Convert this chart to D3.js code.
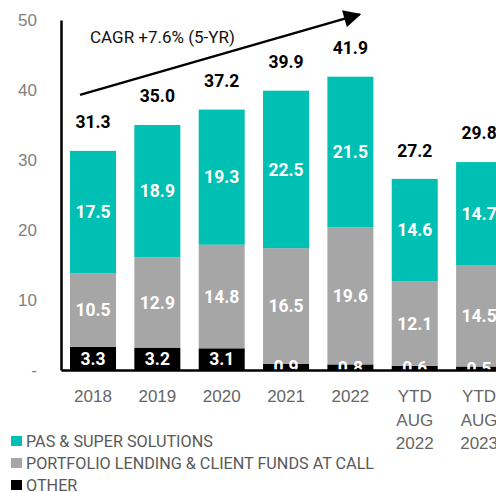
<!DOCTYPE html>
<html>
<head>
<meta charset="utf-8">
<script src="https://cdn.jsdelivr.net/npm/d3@7"></script>
<style>
  body { margin: 0; background: #fff; }
  svg { display: block; font-family: Roboto, "DejaVu Sans", sans-serif; }
</style>
</head>
<body>
<div id="chart"></div>
<script>
// data
const categories = ["2018", "2019", "2020", "2021", "2022", "YTD AUG 2022", "YTD AUG 2023"];
const other = [3.3, 3.2, 3.1, 0.9, 0.8, 0.6, 0.5];
const lending = [10.5, 12.9, 14.8, 16.5, 19.6, 12.1, 14.5];
const pas = [17.5, 18.9, 19.3, 22.5, 21.5, 14.6, 14.7];
const totals = [31.3, 35.0, 37.2, 39.9, 41.9, 27.2, 29.8];
const yTicks = [0, 10, 20, 30, 40, 50];
const seriesNames = ["PAS & SUPER SOLUTIONS", "PORTFOLIO LENDING & CLIENT FUNDS AT CALL", "OTHER"];
const cagrLabel = "CAGR +7.6% (5-YR)";

const colors = { pas: "#00BFB3", lending: "#A6A6A6", other: "#000000" };

const width = 496;
const height = 492;
const marginLeft = 61;
const marginTop = 20;
const PLOT_AREA_HEIGHT = 350;
const STEP = 64.3;

const svg = d3.select("#chart").append("svg")
  .attr("width", width)
  .attr("height", height);

// scales
const $xScale = d3.scaleBand()
  .domain(categories)
  .range([marginLeft, marginLeft + STEP * categories.length])
  .paddingInner(0.285)
  .paddingOuter(0.14);

const $yScale = d3.scaleLinear()
  .domain([0, 50])
  .range([marginTop + PLOT_AREA_HEIGHT, marginTop]);

// stacked rows
const rows = categories.map((c, i) => ({ cat: c, other: other[i], lending: lending[i], pas: pas[i] }));
const stack = d3.stack().keys(["other", "lending", "pas"])(rows);

const g = svg.append("g");

// bars
g.selectAll("g.layer")
  .data(stack)
  .join("g")
  .attr("class", "layer")
  .attr("fill", (d) => colors[d.key])
  .selectAll("rect")
  .data((d) => d)
  .join("rect")
  .attr("x", (d) => $xScale(d.data.cat))
  .attr("y", (d) => $yScale(d[1]))
  .attr("width", $xScale.bandwidth())
  .attr("height", (d) => $yScale(d[0]) - $yScale(d[1]));

// segment labels
stack.forEach((layer) => {
  g.append("g")
    .selectAll("text")
    .data(layer)
    .join("text")
    .attr("x", (d) => $xScale(d.data.cat) + $xScale.bandwidth() / 2)
    .attr("y", (d) => ($yScale(d[0]) + $yScale(d[1])) / 2)
    .attr("dy", "0.36em")
    .attr("text-anchor", "middle")
    .attr("font-size", 17.5)
    .attr("font-weight", "bold")
    .attr("fill", "#fff")
    .text((d) => d.data[layer.key].toFixed(1));
});

// totals
g.append("g")
  .selectAll("text")
  .data(totals)
  .join("text")
  .attr("x", (d, i) => $xScale(categories[i]) + $xScale.bandwidth() / 2)
  .attr("y", (d) => $yScale(d) - 29)
  .attr("dy", "0.36em")
  .attr("text-anchor", "middle")
  .attr("font-size", 17.5)
  .attr("font-weight", "bold")
  .attr("fill", "#000")
  .text((d) => d.toFixed(1));

// CAGR arrow
svg.append("defs").append("marker")
  .attr("id", "arrow")
  .attr("viewBox", "0 0 10 10")
  .attr("refX", 9)
  .attr("refY", 5)
  .attr("markerWidth", 7.5)
  .attr("markerHeight", 7)
  .attr("markerUnits", "strokeWidth")
  .attr("orient", "auto")
  .append("path")
  .attr("d", "M0,0 L10,5 L0,10 Z")
  .attr("fill", "#000");

const x0 = $xScale("2018") + 10;
const x1 = $xScale("2022") + $xScale.bandwidth() * 0.7;
svg.append("line")
  .attr("x1", x0)
  .attr("y1", $yScale(39.3))
  .attr("x2", x1)
  .attr("y2", $yScale(50.8))
  .attr("stroke", "#000")
  .attr("stroke-width", 2.5)
  .attr("marker-end", "url(#arrow)");

svg.append("text")
  .attr("x", x0 + 10)
  .attr("y", $yScale(47.6))
  .attr("dy", "0.36em")
  .attr("font-size", 17)
  .attr("fill", "#111")
  .text(cagrLabel);

// y axis
const $yAxis = d3.axisLeft($yScale)
  .tickValues(yTicks)
  .tickSize(0)
  .tickPadding(24)
  .tickFormat((d) => (d === 0 ? "-" : d));
const yAxis = svg.append("g")
  .attr("transform", `translate(${marginLeft},0)`)
  .call($yAxis);
yAxis.select(".domain").attr("stroke", "#000").attr("stroke-width", 2.5);
yAxis.selectAll("text").attr("font-size", 17).attr("fill", "#808080").attr("font-family", null);

// x axis
const $xAxis = d3.axisBottom($xScale).tickSize(0).tickSizeOuter(0).tickPadding(20);
const xAxis = svg.append("g")
  .attr("transform", `translate(0,${$yScale(0)})`)
  .call($xAxis);
xAxis.select(".domain").attr("stroke", "#000").attr("stroke-width", 2.5);
xAxis.selectAll("text")
  .attr("font-size", 17)
  .attr("fill", "#666")
  .attr("font-family", null)
  .each(function (d) {
    const t = d3.select(this);
    const parts = d.startsWith("YTD") ? ["YTD", "AUG", d.slice(-4)] : [d];
    t.text(null);
    parts.forEach((p, i) => {
      t.append("tspan").attr("x", 0).attr("dy", i === 0 ? "0.71em" : "1.38em").text(p);
    });
  });

// legend
const legendColors = [colors.pas, colors.lending, colors.other];
const legend = svg.append("g")
  .selectAll("g")
  .data(seriesNames)
  .join("g")
  .attr("transform", (d, i) => `translate(11,${441 + i * 22})`);
legend.append("rect")
  .attr("x", 0)
  .attr("y", -5)
  .attr("width", 11)
  .attr("height", 10)
  .attr("fill", (d, i) => legendColors[i]);
legend.append("text")
  .attr("x", 15)
  .attr("dy", "0.36em")
  .attr("font-size", 16.2)
  .attr("fill", "#595959")
  .text((d) => d);
</script>
</body>
</html>
